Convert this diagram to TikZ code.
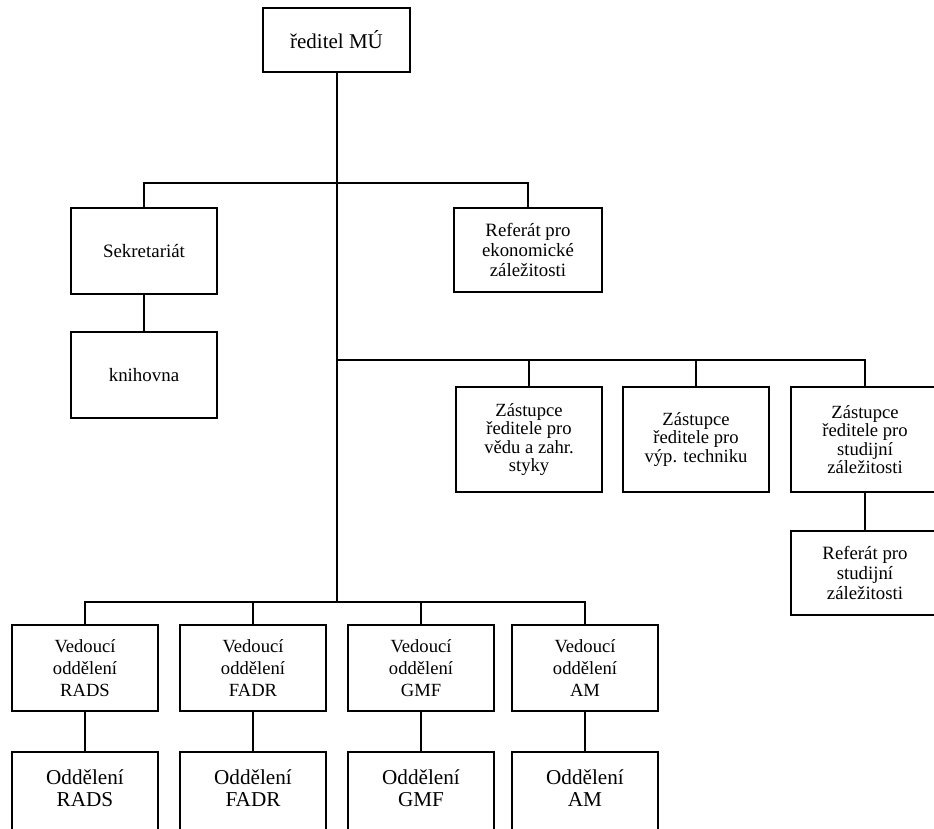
\documentclass[tikz,border=0pt]{standalone}
\usepackage{fontspec}
\setmainfont{Liberation Serif}
\begin{document}
\begin{tikzpicture}[x=1pt,y=-1pt,
  box/.style={draw, line width=1.8pt, inner sep=0pt, align=center, minimum width=146pt},
  conn/.style={line width=1.8pt},
  ftop/.style={font=\fontsize{21}{22}\selectfont},
  fsek/.style={font=\fontsize{18.9}{20}\selectfont},
  fref/.style={font=\fontsize{18.8}{19.6}\selectfont},
  fzas/.style={font=\fontsize{18.6}{18.4}\selectfont},
  fved/.style={font=\fontsize{18.6}{22}\selectfont},
  fodd/.style={font=\fontsize{21.2}{21.8}\selectfont},
  plain/.style={inner sep=0pt, align=center}
]
\useasboundingbox (0,0) rectangle (934,829);
\clip (0,0) rectangle (934,829);

% boxes
\node[box, ftop, minimum width=147pt, minimum height=64pt] (dir) at (336.5,40) {ředitel MÚ};
\node[box, fsek, minimum height=86pt] (sek) at (144,251) {Sekretariát};
\node[box, fsek, minimum height=86pt] (kni) at (144,375) {knihovna};
\node[box, fref, minimum width=148pt, minimum height=84pt] (refek) at (528,250) {Referát pro\\ekonomické\\záležitosti};

\node[box, fzas, minimum height=105pt] (z1) at (529,439.5) {Zástupce\\ředitele pro\\vědu a zahr.\\styky};
\node[box, fzas, minimum height=105pt] (z2) at (696,439.5) {Zástupce\\ředitele pro\\výp. techniku};
\node[box, fzas, minimum width=148pt, minimum height=105pt] (z3) at (865,439.5) {Zástupce\\ředitele pro\\studijní\\záležitosti};
\node[box, fref, minimum width=148pt, minimum height=84pt] (refst) at (865,573) {Referát pro\\studijní\\záležitosti};

\node[box, fved, minimum height=86pt] (v1) at (85,668) {Vedoucí\\oddělení\\RADS};
\node[box, fved, minimum height=86pt] (v2) at (253,668) {Vedoucí\\oddělení\\FADR};
\node[box, fved, minimum height=86pt] (v3) at (421,668) {Vedoucí\\oddělení\\GMF};
\node[box, fved, minimum height=86pt] (v4) at (585,668) {Vedoucí\\oddělení\\AM};

\node[box, minimum height=90pt] (o1) at (85,797) {};
\node[box, minimum height=90pt] (o2) at (253,797) {};
\node[box, minimum height=90pt] (o3) at (421,797) {};
\node[box, minimum height=90pt] (o4) at (585,797) {};
\node[plain, fodd] (o1t) at ([yshift=9pt]o1.center) {Oddělení\\RADS};
\node[plain, fodd] (o2t) at ([yshift=9pt]o2.center) {Oddělení\\FADR};
\node[plain, fodd] (o3t) at ([yshift=9pt]o3.center) {Oddělení\\GMF};
\node[plain, fodd] (o4t) at ([yshift=9pt]o4.center) {Oddělení\\AM};

% junctions on the main line
\coordinate (j1) at (337,183);
\coordinate (j2) at (337,360);
\coordinate (j3) at (337,602);

% connectors
\draw[conn] (dir.south -| j3) -- (j3);
\draw[conn] (sek.north) |- (refek.north |- j1) -- (refek.north);
\draw[conn] (sek.south) -- (kni.north);
\draw[conn] (j2) -| (z3.north);
\draw[conn] (z1.north) -- (z1.north |- j2);
\draw[conn] (z2.north) -- (z2.north |- j2);
\draw[conn] (z3.south) -- (refst.north);
\draw[conn] (v1.north) |- (v4.north |- j3) -- (v4.north);
\draw[conn] (v2.north) -- (v2.north |- j3);
\draw[conn] (v3.north) -- (v3.north |- j3);
\draw[conn] (v1.south) -- (o1.north);
\draw[conn] (v2.south) -- (o2.north);
\draw[conn] (v3.south) -- (o3.north);
\draw[conn] (v4.south) -- (o4.north);
\end{tikzpicture}
\end{document}
